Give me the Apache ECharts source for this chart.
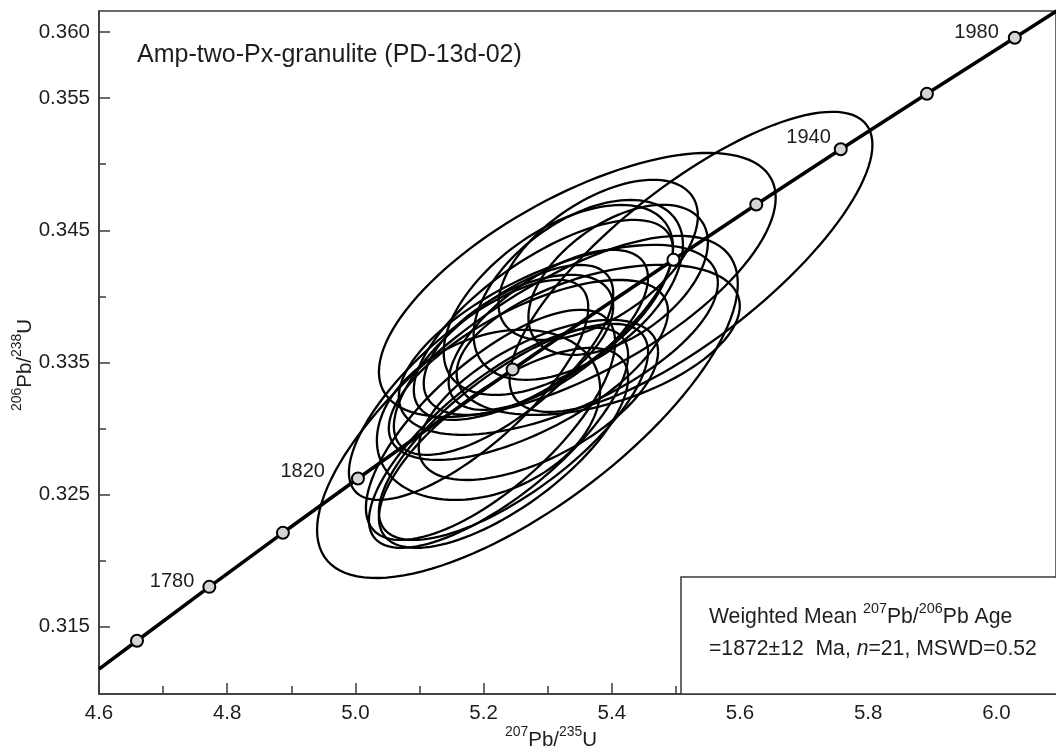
<!DOCTYPE html>
<html>
<head>
<meta charset="utf-8">
<script src="https://cdn.jsdelivr.net/npm/echarts@6/dist/echarts.min.js"></script>
<style>
  html, body { margin: 0; padding: 0; background: #fff; }
  #chart { width: 1056px; height: 753px; }
</style>
</head>
<body>
<div id="chart"></div>
<script>
// concordia line (207Pb/235U, 206Pb/238U), ends at the plot edges
const lineX = [4.6, 4.6593, 4.7721, 4.8869, 5.0040, 5.1234, 5.2453, 5.3695, 5.4962, 5.6254, 5.7572, 5.8916, 6.0287, 6.1];
const lineY = [0.31178, 0.31393, 0.31801, 0.32210, 0.32621, 0.33033, 0.33447, 0.33862, 0.34277, 0.34695, 0.35113, 0.35533, 0.35957, 0.36178];

// age markers seen on the curve (Ma)
const markerAges = [1760, 1780, 1800, 1820, 1860, 1900, 1920, 1940, 1960, 1980];
const markerX = [4.6593, 4.7721, 4.8869, 5.0040, 5.2453, 5.4962, 5.6254, 5.7572, 5.8916, 6.0287];
const markerY = [0.31393, 0.31801, 0.32210, 0.32621, 0.33447, 0.34277, 0.34695, 0.35113, 0.35533, 0.35957];
const openMarkers = [1900];
const labelledAges = [1780, 1820, 1940, 1980];

// analyses: centre, 2-sigma half widths and error correlation
const ellX = [5.5235, 5.3462, 5.2684, 5.2233, 5.2108, 5.2466, 5.2311, 5.2077, 5.3166, 5.3477, 5.2933,
              5.3788, 5.3166, 5.2699, 5.2544, 5.3010, 5.1766, 5.3788, 5.4099, 5.2855, 5.2311];
const ellY = [0.34261, 0.34087, 0.33163, 0.32929, 0.33027, 0.32974, 0.32853, 0.33103, 0.33973, 0.34049, 0.33822,
              0.33671, 0.33671, 0.33443, 0.33633, 0.33746, 0.33292, 0.34276, 0.34125, 0.33216, 0.33519];
const ellSX = [0.2831, 0.3095, 0.3282, 0.2022, 0.1944, 0.2100, 0.1944, 0.1742, 0.1789, 0.1633, 0.2022,
               0.2209, 0.2489, 0.2178, 0.1478, 0.1555, 0.1867, 0.1555, 0.1400, 0.1867, 0.1711];
const ellSY = [0.01136, 0.00999, 0.01295, 0.00833, 0.00871, 0.00818, 0.00757, 0.00644, 0.00719, 0.00681, 0.00757,
               0.00568, 0.00719, 0.00681, 0.00530, 0.00606, 0.00833, 0.00606, 0.00568, 0.00606, 0.00719];
const ellRho = [0.78, 0.66, 0.72, 0.75, 0.72, 0.74, 0.70, 0.30, 0.55, 0.50, 0.70,
                0.45, 0.60, 0.65, 0.55, 0.65, 0.75, 0.55, 0.50, 0.60, 0.70];

// axis ticks
const xMajor = [4.6, 4.8, 5.0, 5.2, 5.4, 5.6, 5.8, 6.0];
const xMinor = [4.7, 4.9, 5.1, 5.3, 5.5, 5.7, 5.9];
const yMajor = [0.315, 0.325, 0.335, 0.345, 0.355, 0.360];
const yMinor = [0.320, 0.330, 0.340, 0.350];

const chart = echarts.init(document.getElementById('chart'));

const lineData = lineX.map((x, i) => [x, lineY[i]]);
const ellData = ellX.map((x, i) => [x, ellY[i], ellSX[i], ellSY[i], ellRho[i]]);
const markerData = markerAges.map((a, i) => ({
  value: [markerX[i], markerY[i]],
  itemStyle: openMarkers.indexOf(a) >= 0 ? { color: '#ffffff' } : undefined
}));
// where each age label sits, relative to its marker
const labelShift = { 1780: [-15, -5], 1820: [-33, -7], 1940: [-10, -12], 1980: [-16, -5] };
const labelData = labelledAges.map(a => {
  const i = markerAges.indexOf(a);
  return {
    value: [markerX[i], markerY[i], a],
    label: { offset: labelShift[a] }
  };
});

const axisCol = '#3a3a3a';
const textCol = '#1e1e1e';
const font = 'Liberation Sans, Arial, sans-serif';

function ellipseItem(params, api) {
  const cx = api.value(0), cy = api.value(1);
  const sx = api.value(2), sy = api.value(3), r = api.value(4);
  const k = Math.sqrt(1 - r * r);
  const pts = [];
  for (let j = 0; j <= 120; j++) {
    const t = j / 120 * Math.PI * 2;
    const c = Math.cos(t), s = Math.sin(t);
    pts.push(api.coord([cx + sx * c, cy + sy * (r * c + k * s)]));
  }
  return {
    type: 'polyline',
    shape: { points: pts },
    style: { fill: null, stroke: '#000', lineWidth: 2.3 }
  };
}

function richSet(size) {
  return {
    n: { fontSize: size, lineHeight: 26, verticalAlign: 'bottom', fontFamily: font, fill: textCol },
    s: { fontSize: size * 0.68, lineHeight: 14, verticalAlign: 'top', fontFamily: font, fill: textCol },
    i: { fontSize: size, lineHeight: 26, verticalAlign: 'bottom', fontFamily: font, fill: textCol, fontStyle: 'italic' }
  };
}

chart.setOption({
  animation: false,
  grid: {
    left: 99, top: 11, right: -3, bottom: 59,
    show: true, borderColor: axisCol, borderWidth: 1.5, backgroundColor: 'transparent'
  },
  xAxis: [
    {
      type: 'value', min: 4.6, max: 6.093,
      axisLine: { show: true, lineStyle: { color: axisCol, width: 1.5 } },
      axisTick: { show: true, inside: true, length: 11, customValues: xMajor, lineStyle: { color: axisCol, width: 1.5 } },
      axisLabel: { customValues: xMajor, margin: 9, fontSize: 20.5, color: textCol, fontFamily: font,
        formatter: v => v.toFixed(1) },
      splitLine: { show: false }
    },
    {
      type: 'value', min: 4.6, max: 6.093, position: 'bottom',
      axisLine: { show: false },
      axisTick: { show: true, inside: true, length: 8, customValues: xMinor, lineStyle: { color: axisCol, width: 1.5 } },
      axisLabel: { show: false },
      splitLine: { show: false }
    }
  ],
  yAxis: [
    {
      type: 'value', min: 0.3099, max: 0.3616,
      axisLine: { show: true, lineStyle: { color: axisCol, width: 1.5 } },
      axisTick: { show: true, inside: true, length: 11, customValues: yMajor, lineStyle: { color: axisCol, width: 1.5 } },
      axisLabel: { customValues: yMajor, margin: 9, fontSize: 20.5, color: textCol, fontFamily: font,
        formatter: v => v.toFixed(3) },
      splitLine: { show: false }
    },
    {
      type: 'value', min: 0.3099, max: 0.3616, position: 'left',
      axisLine: { show: false },
      axisTick: { show: true, inside: true, length: 7, customValues: yMinor, lineStyle: { color: axisCol, width: 1.5 } },
      axisLabel: { show: false },
      splitLine: { show: false }
    }
  ],
  series: [
    {
      type: 'line', data: lineData, showSymbol: false, clip: true,
      lineStyle: { color: '#000', width: 3.6 }, z: 2
    },
    {
      type: 'custom', data: ellData, renderItem: ellipseItem, clip: true,
      encode: { x: 0, y: 1 }, z: 3
    },
    {
      type: 'scatter', data: markerData, symbol: 'circle', symbolSize: 12, clip: false,
      itemStyle: { color: '#d4d4d4', borderColor: '#000', borderWidth: 2, opacity: 1 }, z: 4
    },
    {
      type: 'scatter', data: labelData, symbolSize: 0, z: 5,
      itemStyle: { opacity: 1 },
      label: { show: true, position: 'left', distance: 0, fontSize: 20, color: textCol, fontFamily: font,
        opacity: 1, formatter: p => String(p.value[2]) }
    }
  ],
  graphic: [
    {
      type: 'text', left: 137, top: 43, z: 10,
      style: { text: 'Amp-two-Px-granulite (PD-13d-02)', fontSize: 25, fontFamily: font, fill: textCol }
    },
    {
      type: 'rect', z: 10,
      shape: { x: 681, y: 577, width: 420, height: 117 },
      style: { fill: '#fff', stroke: axisCol, lineWidth: 1.5 }
    },
    {
      type: 'text', x: 709, y: 602, z: 11,
      style: { text: '{n|Weighted Mean }{s|207}{n|Pb/}{s|206}{n|Pb Age}', rich: richSet(21.2) }
    },
    {
      type: 'text', x: 709, y: 634, z: 11,
      style: { text: '{n|=1872\u00b112  Ma, }{i|n}{n|=21, MSWD=0.52}', rich: richSet(21.2) }
    },
    {
      type: 'text', x: 551, y: 738, z: 11,
      style: { text: '{s|207}{n|Pb/}{s|235}{n|U}', rich: richSet(20.5), align: 'center', verticalAlign: 'middle' }
    },
    {
      type: 'text', x: 23, y: 365, z: 11, rotation: Math.PI / 2,
      style: { text: '{s|206}{n|Pb/}{s|238}{n|U}', rich: richSet(20.5), align: 'center', verticalAlign: 'middle' }
    }
  ]
});
</script>
</body>
</html>
